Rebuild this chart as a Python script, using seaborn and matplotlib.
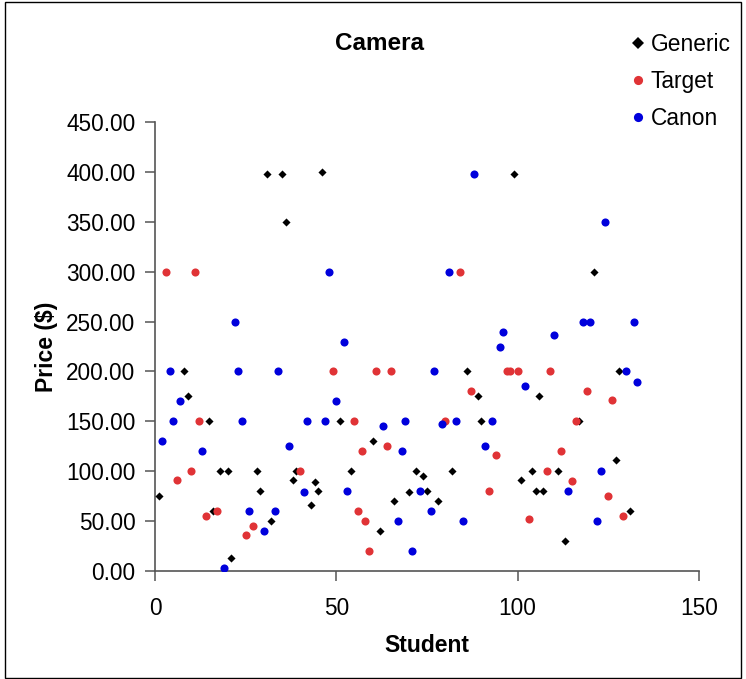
import matplotlib
matplotlib.use("Agg")
import matplotlib.pyplot as plt
import seaborn as sns
import pandas as pd
from matplotlib.ticker import FormatStrFormatter
from matplotlib.patches import Rectangle
from matplotlib.lines import Line2D

# ---- data ----
generic_x = [1, 8, 9, 15, 16, 18, 20, 21, 28, 29, 31, 32, 35, 36, 38, 39, 43, 44, 45, 46,
             51, 54, 60, 62, 66, 70, 72, 74, 75, 78, 82, 86, 89, 90, 99, 101, 104, 105,
             106, 107, 111, 113, 117, 121, 127, 128, 131]
generic_y = [75, 200, 175, 150, 60, 100, 100, 13, 100, 80, 398, 50, 398, 350, 91, 100, 66, 89, 80, 400,
             150, 100, 130, 40, 70, 79, 100, 95, 80, 70, 100, 200, 175, 150, 398, 91, 100, 80,
             175, 80, 100, 30, 150, 300, 111, 200, 60]

target_x = [3, 6, 10, 11, 12, 14, 17, 25, 27, 40, 49, 55, 56, 57, 58, 59, 61, 64, 65, 80,
            84, 87, 92, 94, 97, 98, 100, 103, 108, 109, 112, 115, 116, 119, 125, 126, 129]
target_y = [300, 91, 100, 300, 150, 55, 60, 36, 45, 100, 200, 150, 60, 120, 50, 20, 200, 125, 200, 150,
            300, 180, 80, 116, 200, 200, 200, 52, 100, 200, 120, 90, 150, 180, 75, 171, 55]

canon_x = [2, 4, 5, 7, 13, 19, 22, 23, 24, 26, 30, 33, 34, 37, 41, 42, 47, 48, 50, 52,
           53, 63, 67, 68, 69, 71, 73, 76, 77, 79, 81, 83, 85, 88, 91, 93, 95, 96, 102,
           110, 114, 118, 120, 122, 123, 124, 130, 132, 133]
canon_y = [130, 200, 150, 170, 120, 3, 250, 200, 150, 60, 40, 60, 200, 125, 79, 150, 150, 300, 170, 230,
           80, 145, 50, 120, 150, 20, 80, 60, 200, 147, 300, 150, 50, 398, 125, 150, 225, 240, 185,
           237, 80, 250, 250, 50, 100, 350, 200, 250, 189]

series_names = ["Generic", "Target", "Canon"]
x_ticks = [0, 50, 100, 150]
y_ticks = [0, 50, 100, 150, 200, 250, 300, 350, 400, 450]

df = pd.concat([
    pd.DataFrame({"Student": generic_x, "Price": generic_y, "Series": "Generic"}),
    pd.DataFrame({"Student": target_x, "Price": target_y, "Series": "Target"}),
    pd.DataFrame({"Student": canon_x, "Price": canon_y, "Series": "Canon"}),
], ignore_index=True)

sns.set_style("white")
plt.rcParams["font.family"] = ["Liberation Sans", "DejaVu Sans"]
plt.rcParams["text.color"] = "black"
plt.rcParams["axes.labelcolor"] = "black"
plt.rcParams["xtick.color"] = "black"
plt.rcParams["ytick.color"] = "black"

W, H = 746, 679
fig = plt.figure(figsize=(W / 100, H / 100), dpi=100)
ax = fig.add_axes([155 / W, (H - 571) / H, (699 - 155) / W, (571 - 122) / H])

palette = {"Generic": "#000000", "Target": "#E03336", "Canon": "#0000DC"}
markers = {"Generic": "D", "Target": "o", "Canon": "o"}
sizes = {"Generic": 17, "Target": 34, "Canon": 34}

for name in series_names:
    sub = df[df["Series"] == name]
    sns.scatterplot(data=sub, x="Student", y="Price", ax=ax, color=palette[name],
                    marker=markers[name], s=sizes[name], linewidth=0,
                    legend=False, zorder=3)

ax.set_xlim(0, 150)
ax.set_ylim(0, 450)
ax.set_xticks(x_ticks)
ax.set_yticks(y_ticks)
ax.yaxis.set_major_formatter(FormatStrFormatter("%.2f"))

for s in ["top", "right"]:
    ax.spines[s].set_visible(False)
for s in ["left", "bottom"]:
    ax.spines[s].set_color("#555555")
    ax.spines[s].set_linewidth(1.2)

ax.tick_params(axis="both", which="major", direction="out", length=7, width=1.1,
               color="#555555", labelsize=16.3, labelcolor="#000000",
               left=True, bottom=True)
ax.tick_params(axis="y", pad=7)
ax.tick_params(axis="x", pad=12)

ax.set_xlabel("Student", fontsize=16.5, fontweight="bold", labelpad=10)
ax.set_ylabel("Price ($)", fontsize=16.5, fontweight="bold", labelpad=6)

fig.text(379 / W, 1 - 44 / H, "Camera", ha="center", va="center",
         fontsize=17.5, fontweight="bold")

# legend
handles = [Line2D([0], [0], marker=markers[n], color="none", markerfacecolor=palette[n],
                  markeredgewidth=0, markersize=(5.8 if n == "Generic" else 6.6))
           for n in series_names]
leg = fig.legend(handles, series_names, loc="upper left",
                 bbox_to_anchor=(621 / W, 1 - 22 / H), frameon=False,
                 fontsize=16.4, handlelength=0.5, handletextpad=0.3,
                 labelspacing=0.6, borderpad=0)

# outer border of the chart area
fig.patches.append(Rectangle((5 / W, 1 / H), (741 - 5) / W, (677 - 1) / H,
                             transform=fig.transFigure, fill=False,
                             edgecolor="#000000", linewidth=1.0))

fig.savefig("out.png", dpi=100, facecolor="white")
